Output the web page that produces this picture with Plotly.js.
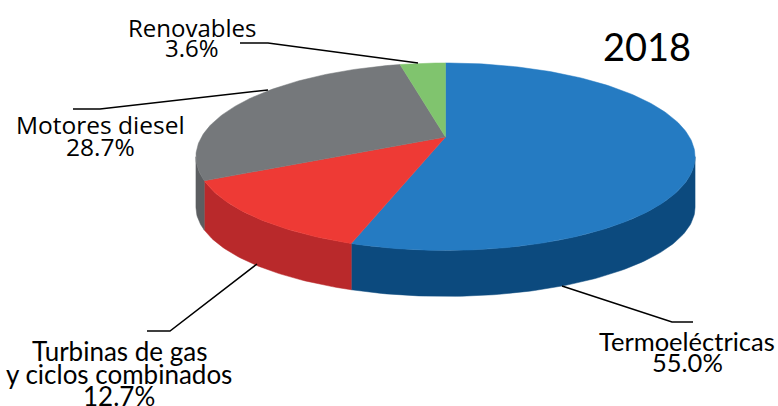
<!DOCTYPE html>
<html>
<head>
<meta charset="utf-8">
<script src="https://cdn.plot.ly/plotly-3.0.1.min.js"></script>
<style>html,body{margin:0;padding:0;background:#fff;}#chart{width:778px;height:406px;}</style>
</head>
<body>
<div id="chart"></div>
<script>
// ---- data ----
const categories = ['Termoeléctricas', 'Turbinas de gas|y ciclos combinados', 'Motores diesel', 'Renovables'];
const values = [55.0, 12.7, 28.7, 3.6];
const chartTitle = '2018';

// ---- styles ----
const topColors  = ['#257bc2', '#ee3a35', '#75787b', '#80c46e'];
const sideColors = ['#0c4a7e', '#b9292b', '#5c5e61', '#5e9a4f'];
// label anchor positions (pixel space): [x, yFirstLine, lineStep, font, size]
const labelPos = [
  [687, 341, 21, 'Lato', 25.5],
  [119, 351, 22.5, 'Lato', 26],
  [100, 124, 22, 'Open Sans', 24.5],
  [192, 27, 20, 'Open Sans', 24]
];
const leaders = [
  'M562,286 L672,322 L693,322',
  'M147,331 L170,331 L257,264',
  'M73,109 L100,109 L268,90',
  'M240,43 L268,43 L418,63'
];

// ---- pseudo-3D projection ----
const cx = 445.5, cy = 137, kR = 244, kRs = 89.6, u = 0.21;
function thick(t) { return 52 + 6 * Math.cos(t); }
function P(t, drop) {
  const s = Math.sin(t), c = Math.cos(t), den = 1 + u * c;
  return [cx + kR * s / den, cy - kRs * c / den + (drop ? thick(t) : 0)];
}
function arc(a0, a1, drop) {
  const pts = [];
  const n = Math.max(2, Math.ceil(Math.abs(a1 - a0) / (Math.PI / 180)));
  for (let i = 0; i <= n; i++) pts.push(P(a0 + (a1 - a0) * i / n, drop));
  return pts;
}

const total = values.reduce((a, b) => a + b, 0);
const traces = [];
const tR = Math.acos(-u), tL = 2 * Math.PI - Math.acos(-u);
let acc = 0;
const ranges = values.map(v => { const a0 = acc / total * 2 * Math.PI; acc += v; return [a0, acc / total * 2 * Math.PI]; });

// side walls (front part only)
ranges.forEach((r, i) => {
  const a0 = Math.max(r[0], tR), a1 = Math.min(r[1], tL);
  if (a1 <= a0) return;
  const topE = arc(a0, a1, false), botE = arc(a1, a0, true);
  const pts = topE.concat(botE);
  pts.push(pts[0]);
  traces.push({type: 'scatter', mode: 'lines', x: pts.map(p => p[0]), y: pts.map(p => p[1]),
    fill: 'toself', fillcolor: sideColors[i], line: {width: 0.5, color: sideColors[i]}, hoverinfo: 'skip', showlegend: false});
});
// top surfaces
ranges.forEach((r, i) => {
  const pts = [[cx, cy]].concat(arc(r[0], r[1], false));
  pts.push([cx, cy]);
  traces.push({type: 'scatter', mode: 'lines', x: pts.map(p => p[0]), y: pts.map(p => p[1]),
    fill: 'toself', fillcolor: topColors[i], line: {width: 0.5, color: topColors[i]}, hoverinfo: 'skip', showlegend: false});
});

// labels
const annotations = [];
categories.forEach((c, i) => {
  const lines = c.split('|').concat([values[i].toFixed(1) + '%']);
  const lp = labelPos[i];
  lines.forEach((ln, j) => {
    annotations.push({x: lp[0], y: lp[1] + j * lp[2], xref: 'x', yref: 'y', text: ln, showarrow: false,
      xanchor: 'center', yanchor: 'middle', font: {family: lp[3], size: lp[4], color: '#000'}});
  });
});
annotations.push({x: 647, y: 46, xref: 'x', yref: 'y', text: chartTitle, showarrow: false,
  xanchor: 'center', yanchor: 'middle', font: {family: 'Lato', size: 38, color: '#000'}});

const shapes = leaders.map(p => ({type: 'path', path: p, xref: 'x', yref: 'y', line: {color: '#000', width: 1.5}}));

Plotly.newPlot('chart', traces, {
  width: 778, height: 406,
  margin: {l: 0, r: 0, t: 0, b: 0},
  paper_bgcolor: '#fff', plot_bgcolor: '#fff',
  xaxis: {range: [0, 778], visible: false, fixedrange: true},
  yaxis: {range: [406, 0], visible: false, fixedrange: true},
  annotations: annotations, shapes: shapes, showlegend: false
}, {displayModeBar: false, staticPlot: true});
</script>
</body>
</html>
